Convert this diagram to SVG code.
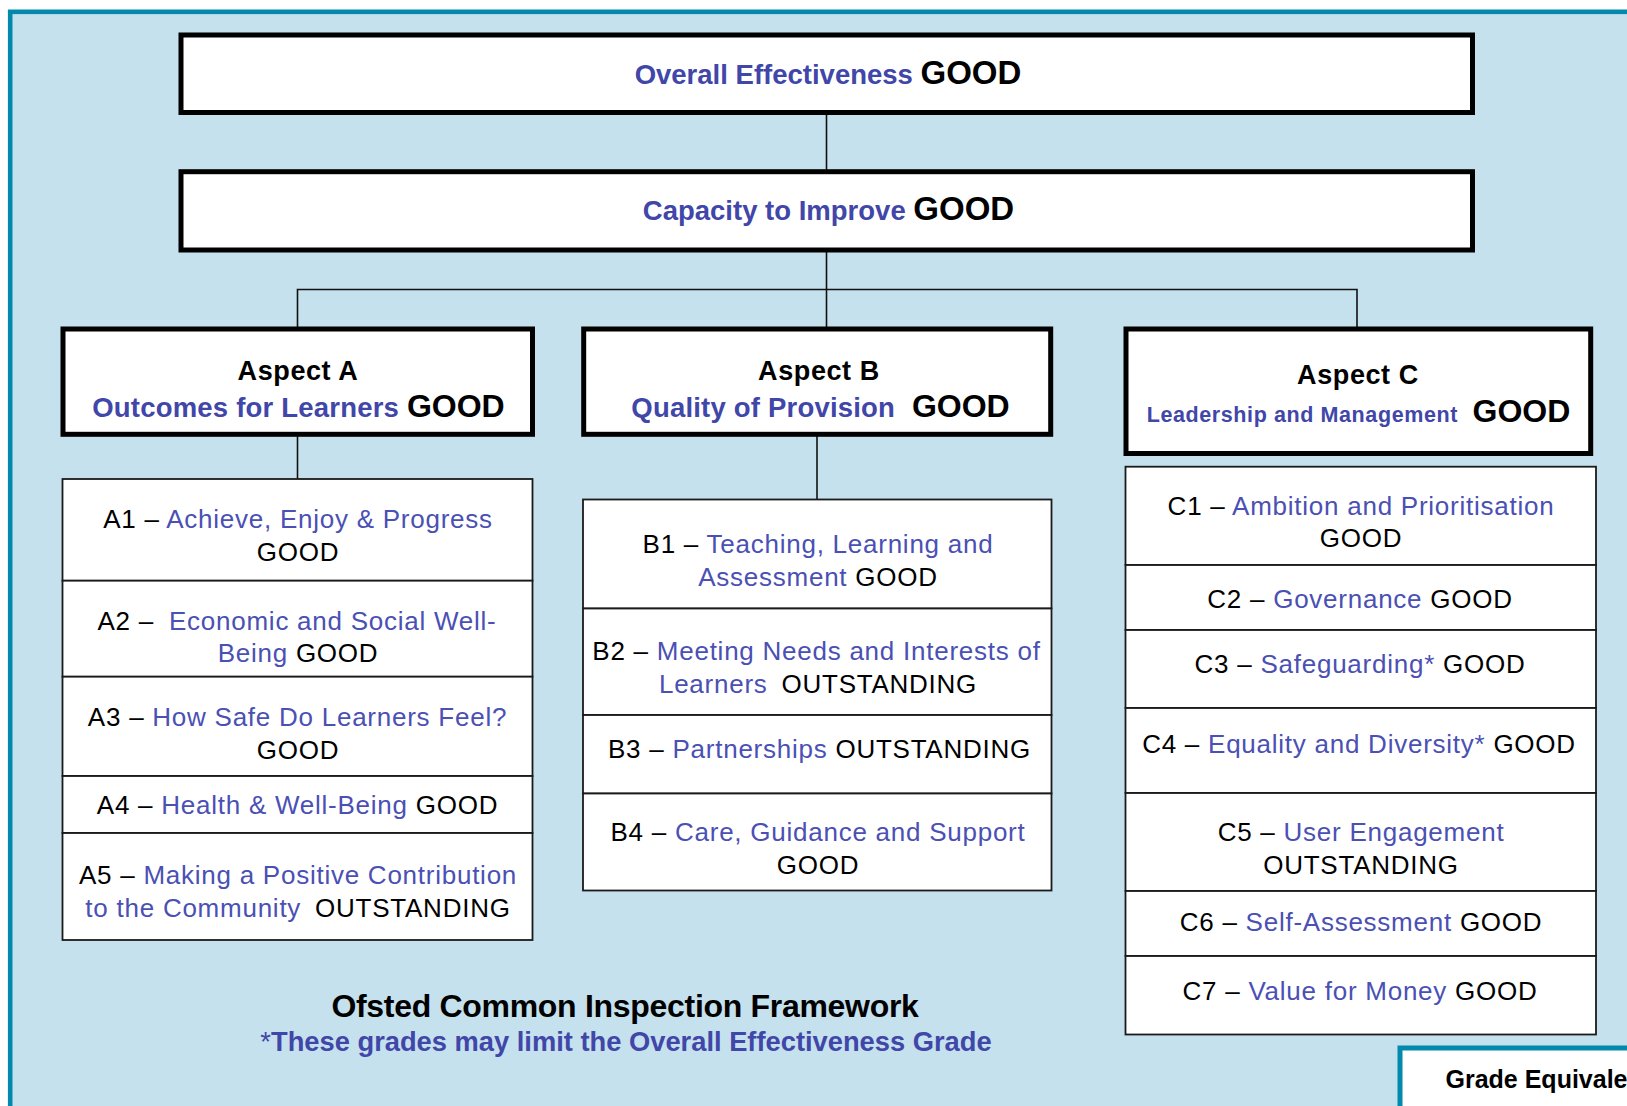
<svg xmlns="http://www.w3.org/2000/svg" width="1627" height="1106" viewBox="0 0 1627 1106">
<style>
  text { font-family: "Liberation Sans", Arial, sans-serif; }
  .thick { fill: #ffffff; stroke: #000000; stroke-width: 5; }
  .cell { fill: #ffffff; stroke: #1a1a1a; stroke-width: 1.8; }
  .conn { fill: none; stroke: #111111; stroke-width: 1.6; }
  .hb { font-weight: bold; font-size: 27.5px; fill: #4146a9; }
  .hg { font-weight: bold; font-size: 33px; fill: #000000; }
  .asp { font-weight: bold; font-size: 27px; fill: #000000; letter-spacing: 0.6px; }
  .ab { font-weight: bold; font-size: 27.5px; fill: #4146a9; letter-spacing: 0.2px; }
  .lm { font-weight: bold; font-size: 21.5px; fill: #4146a9; letter-spacing: 0.6px; }
  .ag { font-weight: bold; font-size: 32px; fill: #000000; }
  .t { font-size: 26px; fill: #000000; letter-spacing: 0.75px; }
  .b { fill: #4a50b4; }
  .k { fill: #000000; }
</style>
<rect x="0" y="0" width="1627" height="1106" fill="#ffffff"/>
<rect x="10.2" y="11.8" width="1700" height="1200" fill="#c5e1ed" stroke="#0389ab" stroke-width="4.6"/>

<g id="connectors">
  <line class="conn" x1="826.5" y1="112" x2="826.5" y2="172"/>
  <line class="conn" x1="826.5" y1="250" x2="826.5" y2="327"/>
  <polyline class="conn" points="297.5,327 297.5,289.5 1357,289.5 1357,327"/>
  <line class="conn" x1="297.5" y1="434" x2="297.5" y2="479"/>
  <line class="conn" x1="817" y1="434" x2="817" y2="499.5"/>
</g>

<g id="overall">
  <rect class="thick" x="181" y="35" width="1291.5" height="77.5"/>
  <text x="828" y="83.5" text-anchor="middle"><tspan class="hb">Overall Effectiveness </tspan><tspan class="hg">GOOD</tspan></text>
</g>

<g id="capacity">
  <rect class="thick" x="181" y="171.7" width="1291.5" height="78.3"/>
  <text x="828.5" y="220" text-anchor="middle"><tspan class="hb">Capacity to Improve </tspan><tspan class="hg">GOOD</tspan></text>
</g>

<g id="aspectA">
  <rect class="thick" x="63" y="329" width="469.5" height="105.3"/>
  <text class="asp" x="298" y="379.5" text-anchor="middle">Aspect A</text>
  <text x="298.5" y="416.7" text-anchor="middle"><tspan class="ab">Outcomes for Learners </tspan><tspan class="ag">GOOD</tspan></text>
</g>

<g id="aspectB">
  <rect class="thick" x="583.7" y="329" width="467" height="105.3"/>
  <text class="asp" x="819" y="379.5" text-anchor="middle">Aspect B</text>
  <text x="820.5" y="416.7" text-anchor="middle"><tspan class="ab">Quality of Provision </tspan><tspan class="ag" dx="9">GOOD</tspan></text>
</g>

<g id="aspectC">
  <rect class="thick" x="1126" y="329" width="464.7" height="124.5"/>
  <text class="asp" x="1358" y="383.5" text-anchor="middle">Aspect C</text>
  <text x="1358.5" y="422" text-anchor="middle"><tspan class="lm">Leadership and Management </tspan><tspan class="ag" dx="8">GOOD</tspan></text>
</g>

<g id="A1">
  <rect class="cell" x="62.5" y="479" width="470" height="101.7"/>
  <text class="t" x="298" y="528" text-anchor="middle">A1 – <tspan class="b">Achieve, Enjoy &amp; Progress</tspan></text>
  <text class="t" x="298" y="561" text-anchor="middle">GOOD</text>
</g>
<g id="A2">
  <rect class="cell" x="62.5" y="580.7" width="470" height="96"/>
  <text class="t" x="297" y="630" text-anchor="middle">A2 – <tspan class="b" dx="7">Economic and Social Well-</tspan></text>
  <text class="t" x="298" y="662" text-anchor="middle"><tspan class="b">Being</tspan> GOOD</text>
</g>
<g id="A3">
  <rect class="cell" x="62.5" y="676.7" width="470" height="99.3"/>
  <text class="t" x="297.5" y="726" text-anchor="middle">A3 – <tspan class="b">How Safe Do Learners Feel?</tspan></text>
  <text class="t" x="298" y="758.5" text-anchor="middle">GOOD</text>
</g>
<g id="A4">
  <rect class="cell" x="62.5" y="776" width="470" height="57"/>
  <text class="t" x="297.5" y="813.5" text-anchor="middle">A4 – <tspan class="b">Health &amp; Well-Being</tspan> GOOD</text>
</g>
<g id="A5">
  <rect class="cell" x="62.5" y="833" width="470" height="107"/>
  <text class="t" x="298" y="884" text-anchor="middle">A5 – <tspan class="b">Making a Positive Contribution</tspan></text>
  <text class="t" x="298" y="917" text-anchor="middle"><tspan class="b">to the Community</tspan> <tspan dx="6">OUTSTANDING</tspan></text>
</g>

<g id="B1">
  <rect class="cell" x="583" y="499.5" width="468.5" height="109"/>
  <text class="t" x="818" y="553" text-anchor="middle">B1 – <tspan class="b">Teaching, Learning and</tspan></text>
  <text class="t" x="818" y="586" text-anchor="middle"><tspan class="b">Assessment</tspan> GOOD</text>
</g>
<g id="B2">
  <rect class="cell" x="583" y="608.5" width="468.5" height="106.5"/>
  <text class="t" x="816.5" y="660" text-anchor="middle">B2 – <tspan class="b">Meeting Needs and Interests of</tspan></text>
  <text class="t" x="818" y="693" text-anchor="middle"><tspan class="b">Learners</tspan> <tspan dx="6">OUTSTANDING</tspan></text>
</g>
<g id="B3">
  <rect class="cell" x="583" y="715" width="468.5" height="78.5"/>
  <text class="t" x="819.5" y="758" text-anchor="middle">B3 – <tspan class="b">Partnerships</tspan> OUTSTANDING</text>
</g>
<g id="B4">
  <rect class="cell" x="583" y="793.5" width="468.5" height="97"/>
  <text class="t" x="818" y="841" text-anchor="middle">B4 – <tspan class="b">Care, Guidance and Support</tspan></text>
  <text class="t" x="818" y="874" text-anchor="middle">GOOD</text>
</g>

<g id="C1">
  <rect class="cell" x="1125.5" y="466.7" width="470.5" height="98.3"/>
  <text class="t" x="1361" y="515" text-anchor="middle">C1 – <tspan class="b">Ambition and Prioritisation</tspan></text>
  <text class="t" x="1361" y="547" text-anchor="middle">GOOD</text>
</g>
<g id="C2">
  <rect class="cell" x="1125.5" y="565" width="470.5" height="65"/>
  <text class="t" x="1360" y="608" text-anchor="middle">C2 – <tspan class="b">Governance</tspan> GOOD</text>
</g>
<g id="C3">
  <rect class="cell" x="1125.5" y="630" width="470.5" height="78"/>
  <text class="t" x="1360" y="673" text-anchor="middle">C3 – <tspan class="b">Safeguarding*</tspan> GOOD</text>
</g>
<g id="C4">
  <rect class="cell" x="1125.5" y="708" width="470.5" height="85"/>
  <text class="t" x="1359" y="753" text-anchor="middle">C4 – <tspan class="b">Equality and Diversity*</tspan> GOOD</text>
</g>
<g id="C5">
  <rect class="cell" x="1125.5" y="793" width="470.5" height="98"/>
  <text class="t" x="1361" y="841" text-anchor="middle">C5 – <tspan class="b">User Engagement</tspan></text>
  <text class="t" x="1361" y="874" text-anchor="middle">OUTSTANDING</text>
</g>
<g id="C6">
  <rect class="cell" x="1125.5" y="891" width="470.5" height="65"/>
  <text class="t" x="1361" y="930.5" text-anchor="middle">C6 – <tspan class="b">Self-Assessment</tspan> GOOD</text>
</g>
<g id="C7">
  <rect class="cell" x="1125.5" y="956" width="470.5" height="78.5"/>
  <text class="t" x="1360" y="1000" text-anchor="middle">C7 – <tspan class="b">Value for Money</tspan> GOOD</text>
</g>

<g id="footer">
  <text x="625" y="1017" text-anchor="middle" font-weight="bold" font-size="32px" fill="#000000" letter-spacing="-0.3">Ofsted Common Inspection Framework</text>
  <text x="626" y="1051" text-anchor="middle" font-size="27.3px" fill="#4146a9"><tspan font-weight="normal">*</tspan><tspan font-weight="bold">These grades may limit the Overall Effectiveness Grade</tspan></text>
</g>

<g id="grade-equivalents">
  <rect x="1400" y="1048" width="300" height="100" fill="#ffffff" stroke="#0389ab" stroke-width="5"/>
  <text x="1445.5" y="1088" font-weight="bold" font-size="25px" fill="#000000">Grade Equivalents</text>
</g>
</svg>
